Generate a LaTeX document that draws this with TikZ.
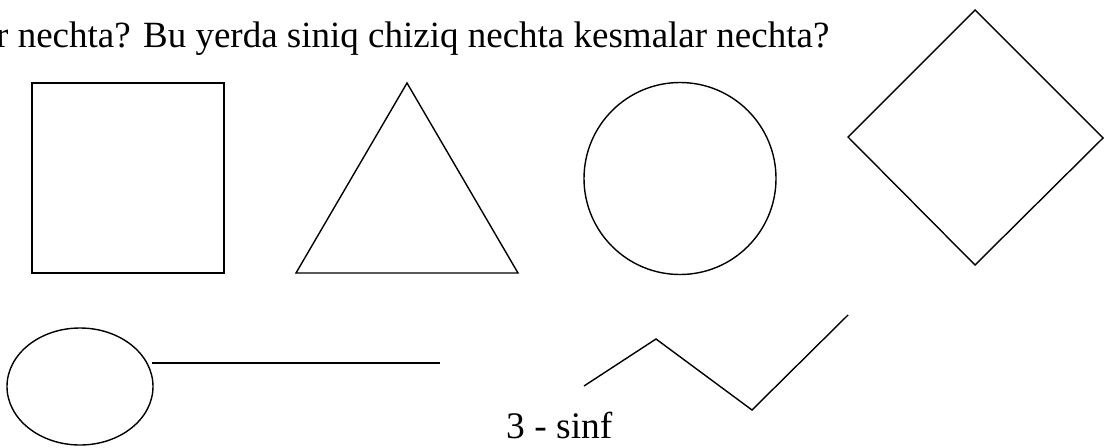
\documentclass[tikz,border=0pt]{standalone}
\usepackage{fontspec}
\setmainfont{Liberation Serif}
\usetikzlibrary{shapes.geometric}
\begin{document}
\begin{tikzpicture}[x=1pt,y=-1pt,
  shape line/.style={draw=black,line width=1.4pt,line join=miter},
  txt/.style={inner sep=0pt,font=\fontsize{37.5}{44}\selectfont}]
\useasboundingbox (0,0) rectangle (1107,447);
\clip (0,0) rectangle (1107,447);
\node[txt,font=\fontsize{37}{44}\selectfont,anchor=base west] (title) at (-4,47) {r nechta? Bu yerda siniq chiziq nechta kesmalar nechta?};
% square
\draw[shape line] (32,83) rectangle (224,273);
% triangle
\draw[shape line] (407,83) -- (518,273) -- (296,273) -- cycle;
% circle
\draw[shape line] (680,178.5) circle[radius=96];
% diamond
\draw[shape line] (975,10) -- (1103,138) -- (975,265) -- (848,137) -- cycle;
% ellipse and segment
\node[shape line,ellipse,minimum width=146pt,minimum height=117pt,inner sep=0pt] (ell) at (80,386.5) {};
\coordinate (segstart) at (152,363);
\coordinate (segend) at (440,363);
\draw[shape line] (segstart) -- (segend);
% zigzag
\coordinate (z1) at (584,386);
\coordinate (z2) at (656,339);
\coordinate (z3) at (752,410);
\coordinate (z4) at (848,315);
\draw[shape line] (z1) -- (z2) -- (z3) -- (z4);
\node[txt,anchor=base west] (grade) at (506,438) {3 - sinf};
\end{tikzpicture}
\end{document}
